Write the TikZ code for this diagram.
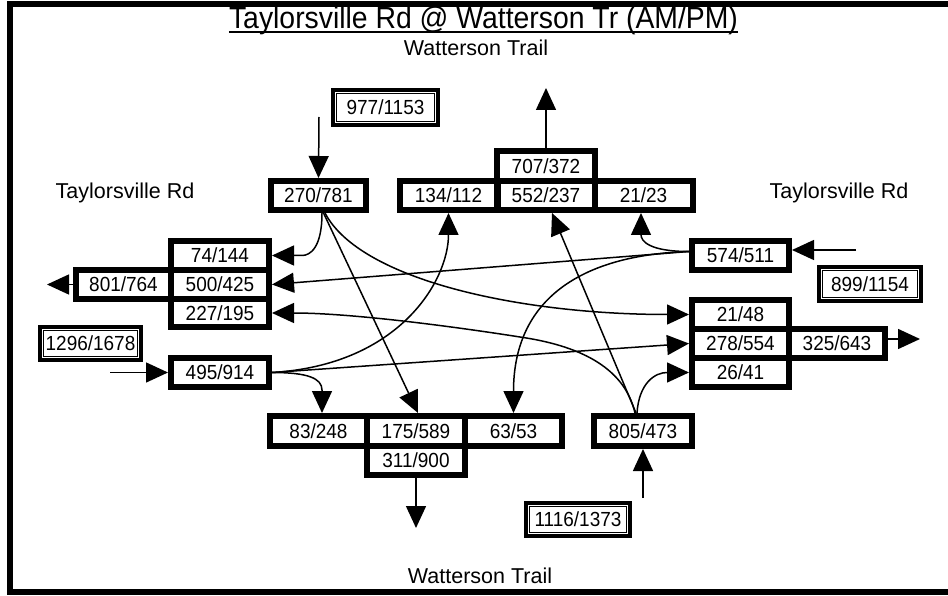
\documentclass[tikz,border=0pt]{standalone}
\usepackage{fontspec}
\setmainfont{Liberation Sans}
\newfontfamily\narrowfam{Liberation Sans}[FakeStretch=0.93]
\usetikzlibrary{arrows.meta,calc}
\newcommand\volfont{\narrowfam\fontsize{20.4}{23}\selectfont}
\newcommand\roadfont{\fontsize{21.5}{24}\selectfont}
\newcommand\titlefont{\narrowfam\fontsize{30.5}{34}\selectfont}
\begin{document}
\begin{tikzpicture}[x=1pt,y=-1pt,
  cell/.style={draw,line width=6pt,outer sep=3pt,inner sep=0pt,font=\volfont,
    minimum width=98pt,minimum height=29pt},
  dblbox/.style={draw,line width=4pt,outer sep=0pt,inner sep=0pt,font=\volfont},
  conn/.style={line width=1.5pt,-{Triangle[length=22pt,width=20pt]}},
  road/.style={font=\roadfont,inner sep=0pt,anchor=base}]

\useasboundingbox (0,0) rectangle (948,596);

% frame
\draw[line width=6pt] (948,4) -- (10,4) -- (10,592) -- (948,592);

% title and street names
\node[font=\titlefont,inner sep=0pt,anchor=base] (title) at (483.5,28.5)
  {Taylorsville Rd @ Watterson Tr (AM/PM)};
\draw[line width=2pt] ($(title.base west)+(0,4)$) -- ($(title.base east)+(0,4)$);
\node[road] (wtN) at (476,56) {Watterson Trail};
\node[road] (wtS) at (480,583) {Watterson Trail};
\node[road] (trW) at (125,199) {Taylorsville Rd};
\node[road] (trE) at (839,199) {Taylorsville Rd};

% approach totals (double frames)
\foreach \nm/\cx/\cy/\w/\h/\txt in {d977/385.5/107.5/105/35/977\slash 1153,
    d1296/90.5/343.5/101/33/1296\slash 1678,
    d899/870/284/102/34/899\slash 1154,
    d1116/578/519.5/104/33/1116\slash 1373}{
  \node[dblbox,minimum width=\w pt,minimum height=\h pt] (\nm) at (\cx,\cy) {\txt};
  \draw[line width=1.3pt] ($(\nm.south west)+(3.8,-3.8)$) rectangle ($(\nm.north east)+(-3.8,3.8)$);
}

% northern leg
\node[cell,minimum width=95pt] (n270) at (318.5,195.5) {270/781};
\node[cell,minimum height=30pt] (n707) at (546,166) {707/372};
\node[cell] (n134) at (448.5,195.5) {134/112};
\node[cell] (n552) at (546,195.5) {552/237};
\node[cell] (n2123) at (643.5,195.5) {21/23};

% western leg
\node[cell] (n74) at (220,255.5) {74/144};
\node[cell] (n500) at (220,284.5) {500/425};
\node[cell,minimum height=28pt] (n227) at (220,313) {227/195};
\node[cell,minimum width=95pt] (n801) at (123.5,284.5) {801/764};
\node[cell] (n495) at (220,372.5) {495/914};

% eastern leg
\node[cell,minimum width=97pt] (n574) at (740.5,255.5) {574/511};
\node[cell,minimum width=97pt] (n2148) at (740.5,314.5) {21/48};
\node[cell,minimum width=97pt] (n278) at (740.5,343.5) {278/554};
\node[cell,minimum width=97pt] (n2641) at (740.5,372.5) {26/41};
\node[cell,minimum width=96pt] (n325) at (837,343.5) {325/643};

% southern leg
\node[cell,minimum width=97pt,minimum height=30pt] (n83) at (318.5,431) {83/248};
\node[cell,minimum height=30pt] (n175) at (416,431) {175/589};
\node[cell,minimum width=97pt,minimum height=30pt] (n6353) at (513.5,431) {63/53};
\node[cell] (n311) at (416,460.5) {311/900};
\node[cell,minimum height=30pt] (n805) at (643,431) {805/473};

% approach and departure arrows
\coordinate (inN) at (319,117);
\coordinate (outN) at (546,88);
\coordinate (inW) at (110,372.5);
\coordinate (outW) at (47,284.5);
\coordinate (inE) at (856,250);
\coordinate (outE) at (920,339);
\coordinate (inS) at (643,498);
\coordinate (outS) at (416,528);
\draw[conn] (inN) -- (n270.north);
\draw[conn] (n707.north) -- (outN);
\draw[conn] (inW) -- (n495.west);
\draw[conn] (n801.west) -- (outW);
\draw[conn] (inE) -- (n574.east |- inE);
\draw[conn] (n325.east |- outE) -- (outE);
\draw[conn] (inS) -- (n805.south);
\draw[conn] (n311.south) -- (outS);

% southbound movements
\draw[conn] ([xshift=3.5pt]n270.south) .. controls +(0,35) and +(8,0) .. ($(n74.east)+(30,0)$) -- (n74.east);
\draw[conn] ([xshift=5pt]n270.south) -- ([xshift=2pt]n175.north);
\draw[conn] ([xshift=6.5pt]n270.south) .. controls (360,280) and (520,314.5) .. (n2148.west);

% westbound movements
\coordinate (w0) at ($(n574.west)+(0,-4)$);
\draw[conn] (w0) .. controls +(-40,0) and +(0,28) .. ([xshift=-2.5pt]n2123.south);
\draw[conn] (w0) -- (n500.east);
\draw[conn] (w0) .. controls (580,255) and (513.5,300) .. (n6353.north);

% eastbound movements
\draw[conn] (n495.east) .. controls +(35,0) and +(0,-12) .. (322,390) -- ([xshift=3.5pt]n83.north);
\draw[conn] (n495.east) -- (n278.west);
\draw[conn] (n495.east) .. controls (400,365) and (448.5,280) .. (n134.south);

% northbound movements
\draw[conn] ([xshift=-6pt]n805.north) .. controls +(2,-30) and +(-12,0) .. ($(n2641.west)+(-22,0)$) -- (n2641.west);
\draw[conn] ([xshift=-7pt]n805.north) -- ([xshift=6pt]n552.south);
\draw[conn] ([xshift=-8pt]n805.north) .. controls (624,365) and (575,345) .. (520,337)
  .. controls (450,326) and (350,313) .. (n227.east);
\end{tikzpicture}
\end{document}
